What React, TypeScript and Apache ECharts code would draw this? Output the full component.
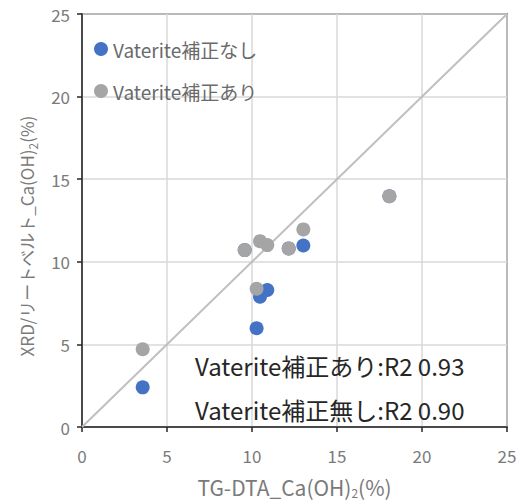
import React, { useEffect, useRef } from "react";
import * as echarts from "echarts";

const seriesNames = ["Vaterite補正なし", "Vaterite補正あり"];
// TG-DTA Ca(OH)2 (%), XRD Rietveld Ca(OH)2 (%)
const withoutCorrection: [number, number][] = [
  [3.57, 2.4],
  [10.27, 5.98],
  [10.47, 7.89],
  [10.9, 8.29],
  [13.02, 10.99],
  [9.57, 10.71],
  [12.16, 10.81],
  [18.08, 13.97],
];
const withCorrection: [number, number][] = [
  [3.57, 4.71],
  [10.27, 8.37],
  [9.57, 10.71],
  [10.47, 11.25],
  [10.9, 11.01],
  [12.16, 10.81],
  [13.02, 11.96],
  [18.08, 13.97],
];
const diagonal: [number, number][] = [
  [0, 0],
  [25, 25],
];
const annotations = ["Vaterite補正あり:R2 0.93", "Vaterite補正無し:R2 0.90"];
const yAxisName = "{a|XRD/リートベルト_Ca(OH)}{s|2}{a|(%)}";
const xAxisName = "{a|TG-DTA_Ca(OH)}{s|2}{a|(%)}";

const FONT = "'Noto Sans CJK JP', 'Noto Sans', sans-serif";
const LABEL_GRAY = "#7A7A7A";

export default function App() {
  const ref = useRef<HTMLDivElement>(null);
  useEffect(() => {
    if (!ref.current) return;
    const chart = echarts.init(ref.current, undefined, { renderer: "svg" });
    const axisCommon = {
      type: "value" as const,
      min: 0,
      max: 25,
      interval: 5,
      axisLine: { show: true, lineStyle: { color: "#262626", width: 1.5 } },
      axisTick: { show: true, inside: false, length: 5, lineStyle: { color: "#262626", width: 1.5 } },
      splitLine: { show: true, lineStyle: { color: "#D9D9D9", width: 1.5 } },
      axisLabel: { color: LABEL_GRAY, fontSize: 17, fontFamily: FONT },
      nameLocation: "middle" as const,
    };
    const nameRich = (size: number) => ({
      a: { fontSize: size, fill: LABEL_GRAY, color: LABEL_GRAY, fontFamily: FONT, lineHeight: 24 },
      s: { fontSize: 12, fill: LABEL_GRAY, color: LABEL_GRAY, fontFamily: FONT, lineHeight: 12, verticalAlign: "bottom" as const },
    });
    chart.setOption({
      animation: false,
      backgroundColor: "#ffffff",
      grid: {
        left: 82,
        top: 14,
        right: 17,
        bottom: 76,
        show: true,
        borderColor: "#262626",
        borderWidth: 1.5,
        backgroundColor: "transparent",
      },
      legend: {
        data: seriesNames,
        orient: "vertical",
        left: 89,
        top: 33,
        padding: 5,
        itemWidth: 14,
        itemHeight: 14,
        itemGap: 20,
        icon: "circle",
        textStyle: { color: "#6A6A6A", fontSize: 19, fontFamily: FONT, lineHeight: 22 },
      },
      xAxis: {
        ...axisCommon,
        axisLabel: { ...axisCommon.axisLabel, margin: 20 },
        name: xAxisName,
        nameGap: 48,
        nameTextStyle: { rich: nameRich(21) },
      },
      yAxis: {
        ...axisCommon,
        axisLabel: { ...axisCommon.axisLabel, margin: 12 },
      },
      series: [
        {
          type: "line",
          data: diagonal,
          symbol: "none",
          silent: true,
          lineStyle: { color: "#BFBFBF", width: 2 },
          z: 1,
        },
        {
          name: seriesNames[0],
          type: "scatter",
          data: withoutCorrection,
          symbol: "circle",
          symbolSize: 14,
          itemStyle: { color: "#4472C4", opacity: 1 },
          z: 2,
        },
        {
          name: seriesNames[1],
          type: "scatter",
          data: withCorrection,
          symbol: "circle",
          symbolSize: 14,
          itemStyle: { color: "#A5A5A5", opacity: 1 },
          z: 3,
        },
      ],
      graphic: [
        ...annotations.map((t, i) => ({
          type: "text",
          left: 195,
          top: 353 + i * 44,
          style: { text: t, fill: "#262626", fontSize: 24, fontFamily: FONT },
          z: 10,
        })),
        {
          type: "text",
          x: 26,
          y: 236,
          rotation: Math.PI / 2,
          style: {
            text: yAxisName,
            rich: nameRich(17),
            align: "center",
            verticalAlign: "middle",
            fill: LABEL_GRAY,
            fontFamily: FONT,
          },
          z: 10,
        },
      ],
    });
    return () => chart.dispose();
  }, []);
  return (
    <div
      ref={ref}
      style={{ position: "fixed", left: 0, top: 0, width: 524, height: 504 }}
    />
  );
}
